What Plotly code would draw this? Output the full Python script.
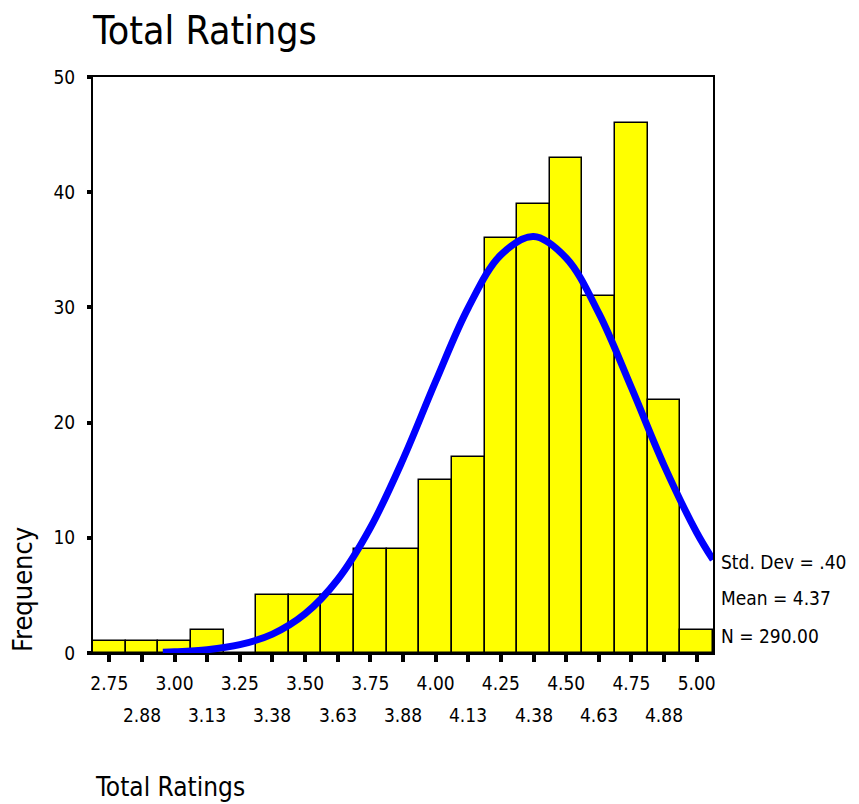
import plotly.graph_objects as go

# Histogram bins (bin centres) and frequencies
bin_centers = [2.75, 2.875, 3.00, 3.125, 3.25, 3.375, 3.50, 3.625, 3.75, 3.875,
               4.00, 4.125, 4.25, 4.375, 4.50, 4.625, 4.75, 4.875, 5.00]
frequencies = [1, 1, 1, 2, 0, 5, 5, 5, 9, 9, 15, 17, 36, 39, 43, 31, 46, 22, 2]
tick_labels = ["2.75", "2.88", "3.00", "3.13", "3.25", "3.38", "3.50", "3.63", "3.75", "3.88",
               "4.00", "4.13", "4.25", "4.38", "4.50", "4.63", "4.75", "4.88", "5.00"]

# Fitted normal curve
curve_x = [2.955, 3.0, 3.125, 3.25, 3.375, 3.5, 3.625, 3.75, 3.875, 4.0, 4.125,
           4.25, 4.375, 4.5, 4.625, 4.75, 4.875, 5.0, 5.0625]
curve_y = [0.07, 0.1, 0.28, 0.72, 1.64, 3.4, 6.38, 10.87, 16.81, 23.57, 29.97,
           34.56, 36.15, 34.29, 29.5, 23.03, 16.29, 10.46, 8.1]

stats_lines = ["Std. Dev = .40", "Mean = 4.37", "N = 290.00"]

FONT = "DejaVu Sans Condensed, DejaVu Sans, Verdana, sans-serif"
OFF = 8  # page body margin
W, H = 851, 796
ML, MT = 93 - OFF, 77 - OFF
MR = W - (713 - OFF)
MB = H - (653 - OFF)
plot_w = W - ML - MR
plot_h = H - MT - MB

def py(pix):
    return ((653 - OFF) - (pix - OFF)) / plot_h

def px(pix):
    return (pix - 93) / plot_w

fig = go.Figure()
fig.add_trace(go.Bar(
    x=bin_centers, y=frequencies, width=0.125,
    marker=dict(color="#FFFF00", line=dict(color="black", width=1.5)),
    showlegend=False, hoverinfo="x+y"))
fig.add_trace(go.Scatter(
    x=curve_x, y=curve_y, mode="lines", line=dict(color="#0000FF", width=7, shape="spline"),
    showlegend=False))

top_text = [t if i % 2 == 0 else "" for i, t in enumerate(tick_labels)]
annotations = []
for i, (xv, t) in enumerate(zip(bin_centers, tick_labels)):
    if i % 2 == 1:
        annotations.append(dict(x=xv, y=0, xref="x", yref="paper", text=t, showarrow=False,
                                yanchor="middle", yshift=-62, font=dict(size=19, color="black", family=FONT)))

for txt, pix in zip(stats_lines, [562, 598, 636]):
    annotations.append(dict(x=1, y=py(pix), xref="paper", yref="paper", text=txt, showarrow=False,
                            xanchor="left", yanchor="middle", xshift=6,
                            font=dict(size=19, color="black", family=FONT)))

annotations.append(dict(x=px(22), y=py(590), xref="paper", yref="paper",
                        text="Frequency", textangle=-90, showarrow=False, xanchor="center", yanchor="middle",
                        font=dict(size=27, color="black", family=FONT)))
annotations.append(dict(x=0, y=py(787), xref="paper", yref="paper", text="Total Ratings",
                        showarrow=False, xanchor="left", yanchor="middle",
                        font=dict(size=26, color="black", family=FONT)))

fig.update_layout(
    width=W, height=H,
    margin=dict(l=ML, r=MR, t=MT, b=MB),
    paper_bgcolor="white", plot_bgcolor="white",
    bargap=0,
    title=dict(text="Total Ratings", x=ML / W, xanchor="left", y=1 - (30 - OFF) / H, yanchor="middle",
               font=dict(size=39, color="black", family=FONT)),
    xaxis=dict(range=[2.6875, 5.0625], tickvals=bin_centers, ticktext=top_text,
               ticks="outside", ticklen=7, tickwidth=4, tickcolor="black",
               showline=True, linecolor="black", linewidth=2, mirror=True,
               showgrid=False, zeroline=False, ticklabelstandoff=5,
               tickfont=dict(size=19, color="black", family=FONT)),
    yaxis=dict(range=[0, 50], tickvals=[0, 10, 20, 30, 40, 50],
               ticks="outside", ticklen=4, tickwidth=4, tickcolor="black",
               showline=True, linecolor="black", linewidth=2, mirror=True,
               showgrid=False, zeroline=False, ticklabelstandoff=8,
               tickfont=dict(size=19, color="black", family=FONT)),
    annotations=annotations,
    shapes=[dict(type="rect", xref="paper", x0=-0.01, x1=1.01, yref="y", ysizemode="pixel",
                 yanchor=0, y0=-2, y1=-4, fillcolor="white", line=dict(width=0), layer="above")],
)

fig.write_html("out.html")
